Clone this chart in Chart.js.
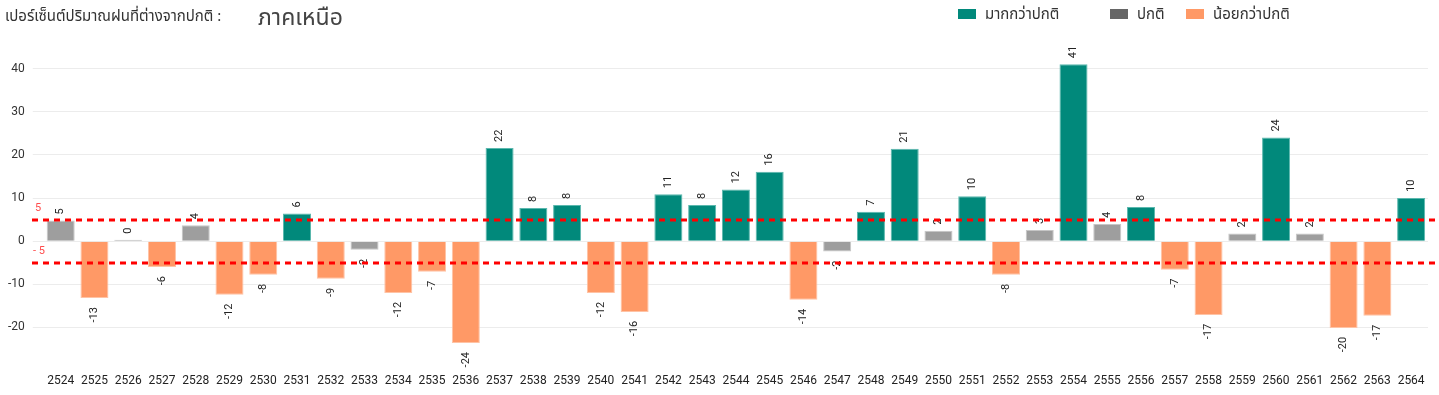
<!DOCTYPE html>
<html>
<head>
<meta charset="utf-8">
<script src="https://cdn.jsdelivr.net/npm/chart.js@4"></script>
<style>
  html, body { margin: 0; padding: 0; background: #fff; overflow: hidden; }
  #wrap { position: relative; width: 1439px; height: 395px; }
  canvas { display: block; }
  .thai { font-family: Tahoma, "Noto Sans Thai", "Noto Sans", sans-serif; color: #333; white-space: nowrap; position: absolute; }
  #lead { left: 5px; top: 5px; font-size: 15px; }
  #region { left: 258px; top: 1px; font-size: 23px; color: #444; }
  .lg { position: absolute; top: 3px; height: 22px; display: flex; align-items: center; }
  .lg i { display: inline-block; width: 18px; height: 10px; margin-right: 9px; }
  .lg span { font-family: Tahoma, "Noto Sans Thai", "Noto Sans", sans-serif; font-size: 15px; color: #333; white-space: nowrap; }
</style>
</head>
<body>
<div id="wrap">
  <canvas id="myChart" width="1439" height="395"></canvas>
  <div id="lead" class="thai">เปอร์เซ็นต์ปริมาณฝนที่ต่างจากปกติ :</div>
  <div id="region" class="thai">ภาคเหนือ</div>
  <div id="legend"></div>
</div>
<script>
/* global Chart */

// years (Buddhist era)
var years = ['2524', '2525', '2526', '2527', '2528', '2529', '2530', '2531', '2532', '2533',
    '2534', '2535', '2536', '2537', '2538', '2539', '2540', '2541', '2542', '2543',
    '2544', '2545', '2546', '2547', '2548', '2549', '2550', '2551', '2552', '2553',
    '2554', '2555', '2556', '2557', '2558', '2559', '2560', '2561', '2562', '2563', '2564'];

// percent difference from normal
var rainDiff = [4.8, -13.2, 0.3, -6.0, 3.7, -12.4, -7.8, 6.4, -8.7, -2.0,
    -12.0, -7.1, -23.6, 21.6, 7.7, 8.4, -12.0, -16.4, 10.9, 8.4,
    12.0, 16.1, -13.6, -2.4, 6.8, 21.4, 2.4, 10.4, -7.8, 2.6,
    41.0, 4.0, 7.9, -6.6, -17.1, 1.8, 24.0, 1.8, -20.1, -17.3, 10.0];

// class per year: 'more', 'normal', 'less'
var rainClass = ['normal', 'less', 'normal', 'less', 'normal', 'less', 'less', 'more', 'less', 'normal',
    'less', 'less', 'less', 'more', 'more', 'more', 'less', 'less', 'more', 'more',
    'more', 'more', 'less', 'normal', 'more', 'more', 'normal', 'more', 'less', 'normal',
    'more', 'normal', 'more', 'less', 'less', 'normal', 'more', 'normal', 'less', 'less', 'more'];

var yTicks = [40, 30, 20, 10, 0, -10, -20];
var limitLines = [5, -5];

var legendNames = ['มากกว่าปกติ', 'ปกติ', 'น้อยกว่าปกติ'];
var legendColors = ['#01897b', '#666666', '#ff9966'];
var legendLeft = [958, 1110, 1186];

var barColors = { more: '#01897b', normal: '#9e9e9e', less: '#ff9966' };
var barEdges = { more: '#5bb8ae', normal: '#c6c6c6', less: '#ffc3a5' };

var NUMFONT = 'Roboto, "DejaVu Sans", sans-serif';

// legend (html)
var lg = document.getElementById('legend');
legendNames.forEach(function(n, i) {
    var d = document.createElement('div');
    d.className = 'lg';
    d.style.left = legendLeft[i] + 'px';
    d.innerHTML = '<i style="background:' + legendColors[i] + '"></i><span>' + n + '</span>';
    lg.appendChild(d);
});

// rotated value labels above / below each bar
var valueLabels = {
    id: 'valueLabels',
    afterDatasetsDraw: function(chart) {
        var ctx = chart.ctx;
        var meta = chart.getDatasetMeta(0);
        ctx.save();
        ctx.font = '11px ' + NUMFONT;
        ctx.fillStyle = '#222';
        ctx.textBaseline = 'middle';
        meta.data.forEach(function(bar, i) {
            var v = rainDiff[i];
            var txt = String(Math.round(v));
            ctx.save();
            ctx.translate(bar.x, bar.y);
            ctx.rotate(-Math.PI / 2);
            if (v >= 0) {
                ctx.textAlign = 'left';
                ctx.fillText(txt, 6, 0);
            } else {
                ctx.textAlign = 'right';
                ctx.fillText(txt, -9, 0);
            }
            ctx.restore();
        });
        ctx.restore();
    }
};

// red dashed lines at +5 / -5
var limitPlugin = {
    id: 'limitPlugin',
    afterDatasetsDraw: function(chart) {
        var ctx = chart.ctx;
        var y = chart.scales.y;
        ctx.save();
        ctx.strokeStyle = '#ff0000';
        ctx.lineWidth = 3;
        ctx.setLineDash([6, 5]);
        ctx.font = '11px ' + NUMFONT;
        ctx.fillStyle = '#ff4d4d';
        ctx.textBaseline = 'bottom';
        ctx.textAlign = 'left';
        limitLines.forEach(function(v) {
            var py = Math.round(y.getPixelForValue(v));
            ctx.beginPath();
            ctx.moveTo(32, py);
            ctx.lineTo(chart.width, py);
            ctx.stroke();
            ctx.fillText(v < 0 ? '- ' + Math.abs(v) : String(v), v < 0 ? 33 : 35, py - 6);
        });
        ctx.restore();
    }
};

var ctx = document.getElementById('myChart').getContext('2d');
var myChart = new Chart(ctx, {
    type: 'bar',
    data: {
        labels: years,
        datasets: [{
            data: rainDiff,
            backgroundColor: rainClass.map(function(c) { return barColors[c]; }),
            borderColor: rainClass.map(function(c) { return barEdges[c]; }),
            borderWidth: 1,
            barPercentage: 0.83,
            categoryPercentage: 1
        }]
    },
    options: {
        responsive: false,
        animation: false,
        layout: { padding: { left: 0, right: 11, top: 47, bottom: 4 } },
        plugins: {
            tooltip: { enabled: false },
            legend: { display: false }
        },
        scales: {
            x: {
                grid: { display: false, drawTicks: false },
                border: { display: false },
                ticks: {
                    color: '#222',
                    padding: 3,
                    maxRotation: 0,
                    autoSkip: false,
                    font: { family: NUMFONT, size: 12 }
                }
            },
            y: {
                min: -30,
                max: 45,
                afterBuildTicks: function(axis) {
                    axis.ticks = yTicks.map(function(v) { return { value: v }; });
                },
                border: { display: false },
                grid: { color: '#ececec', tickLength: 11, lineWidth: 1 },
                ticks: {
                    color: '#333',
                    padding: 8,
                    font: { family: NUMFONT, size: 12 },
                    callback: function(v) { return v < 0 ? '-' + Math.abs(v) : v; }
                }
            }
        }
    },
    plugins: [valueLabels, limitPlugin]
});
</script>
</body>
</html>
